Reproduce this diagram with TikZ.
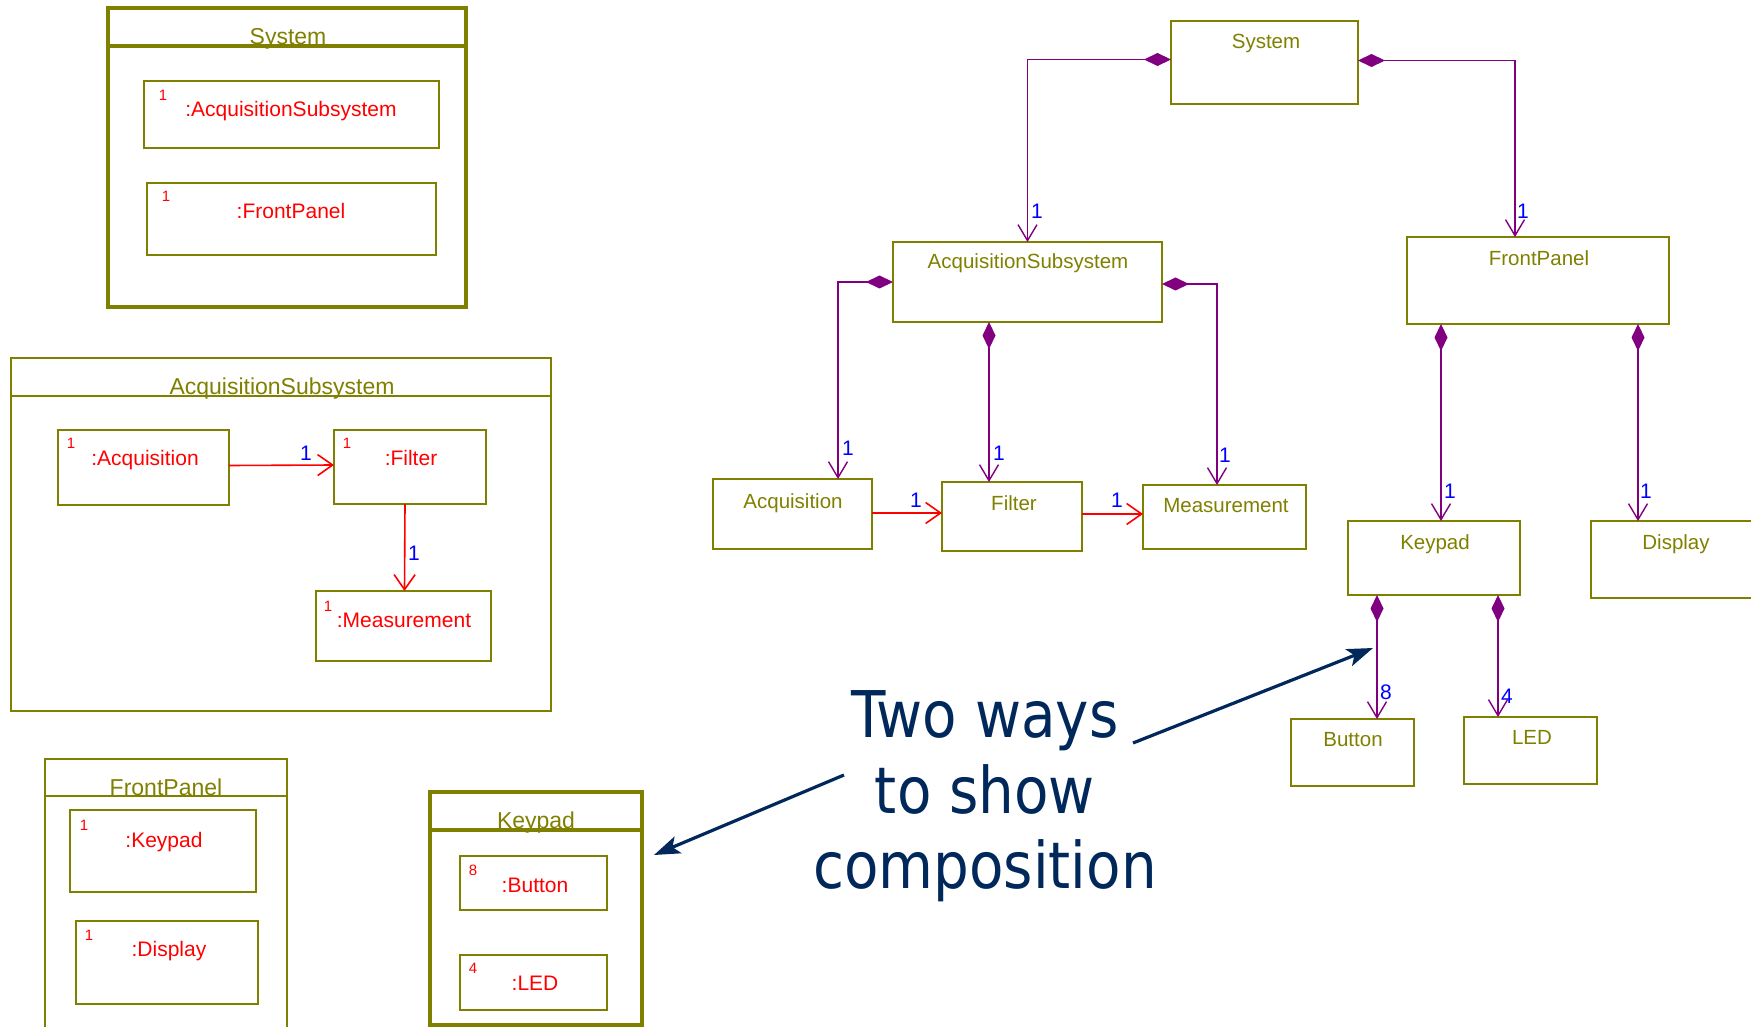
\documentclass[tikz,border=0pt]{standalone}
\usepackage{fontspec}
\setmainfont{Liberation Sans}
\newfontfamily\callfont[FakeStretch=0.875]{DejaVu Sans}
\usetikzlibrary{arrows.meta,fit,calc}
\definecolor{olivec}{HTML}{808000}
\definecolor{purp}{HTML}{800080}
\definecolor{navyc}{HTML}{00285A}
\definecolor{redc}{HTML}{FF0000}
\definecolor{bluec}{HTML}{0000FF}
\tikzset{
  box/.style={draw=olivec, line width=0.8pt, inner sep=0pt, outer sep=0pt},
  thickframe/.style={draw=olivec, line width=1.8pt, inner sep=0pt, outer sep=0pt},
  ftitle/.style={text=olivec, font=\fontsize{11.5}{13}\selectfont, inner sep=0pt, anchor=base},
  cname/.style={text=olivec, font=\fontsize{10.25}{12}\selectfont, inner sep=0pt, anchor=base},
  rname/.style={text=redc, font=\fontsize{10.5}{12}\selectfont, inner sep=0pt, anchor=base},
  mult/.style={text=redc, font=\fontsize{7.5}{9}\selectfont, inner sep=0pt, anchor=base},
  bl/.style={text=bluec, font=\fontsize{10.5}{12}\selectfont, inner sep=0pt, anchor=base},
  comp/.style={draw=purp, line width=0.7pt, {Diamond[length=13.5pt,width=6.5pt]}-{Straight Barb[length=8pt,width=9.5pt]}},
  nav/.style={draw=redc, line width=0.8pt, -{Straight Barb[length=7.5pt,width=10.5pt]}},
  callarrow/.style={draw=navyc, line width=1.6pt, -{Stealth[length=13pt,width=9pt,inset=3pt]}},
  calltext/.style={text=navyc, font=\callfont\fontsize{32.2}{38}\selectfont, inner sep=0pt, anchor=base},
}
\begin{document}
\begin{tikzpicture}[x=0.5pt,y=-0.5pt]
\path[use as bounding box] (0,0) rectangle (1751,1027);
\clip (0,0) rectangle (1751,1027);

% ===== Left: System frame =====
\node[thickframe, fit={(108,8) (466,307)}] (sysF) {};
\draw[olivec, line width=1.8pt] (sysF.west |- 0,46) -- (sysF.east |- 0,46);
\node[ftitle] (sysFT) at (288,45) {System};
\node[box, fit={(144,81) (439,148)}] (iAS) {};
\node[mult] (iASm) at (163,101) {1};
\node[rname] (iAST) at (291,117) {:AcquisitionSubsystem};
\node[box, fit={(147,183) (436,255)}] (iFP) {};
\node[mult] (iFPm) at (166,202) {1};
\node[rname] (iFPT) at (291,219) {:FrontPanel};

% ===== Left: AcquisitionSubsystem frame =====
\node[box, fit={(11,358) (551,711)}] (asF) {};
\draw[olivec, line width=0.8pt] (asF.west |- 0,396) -- (asF.east |- 0,396);
\node[ftitle] (asFT) at (282,394) {AcquisitionSubsystem};
\node[box, fit={(58,430) (229,505)}] (iAcq) {};
\node[mult] (iAcqm) at (71,448) {1};
\node[rname] (iAcqT) at (145,465) {:Acquisition};
\node[box, fit={(334,430) (486,504)}] (iFil) {};
\node[mult] (iFilm) at (347,448) {1};
\node[rname] (iFilT) at (411,465) {:Filter};
\node[box, fit={(316,591) (491,661)}] (iMeas) {};
\node[mult] (iMeasm) at (328,611) {1};
\node[rname] (iMeasT) at (404,627) {:Measurement};
\draw[nav] ($(iAcq.east)+(0,-2)$) -- ($(iFil.west)+(0,-2)$);
\node[bl] (lAF) at (306,460) {1};
\draw[nav] ($(iFil.south)+(-5,0)$) -- ($(iMeas.north)+(1,0)$);
\node[bl] (lFM) at (414,560) {1};

% ===== Left: FrontPanel frame =====
\node[box, fit={(45,759) (287,1045)}] (fpF) {};
\draw[olivec, line width=0.8pt] (fpF.west |- 0,796) -- (fpF.east |- 0,796);
\node[ftitle] (fpFT) at (166,795) {FrontPanel};
\node[box, fit={(70,810) (256,892)}] (iKey) {};
\node[mult] (iKeym) at (84,830) {1};
\node[rname] (iKeyT) at (164,847) {:Keypad};
\node[box, fit={(76,921) (258,1004)}] (iDisp) {};
\node[mult] (iDispm) at (89,940) {1};
\node[rname] (iDispT) at (169,956) {:Display};

% ===== Left: Keypad frame =====
\node[thickframe, fit={(430,792) (642,1025)}] (kpF) {};
\draw[olivec, line width=1.8pt] (kpF.west |- 0,830) -- (kpF.east |- 0,830);
\node[ftitle] (kpFT) at (536,828) {Keypad};
\node[box, fit={(460,856) (607,910)}] (iBtn) {};
\node[mult] (iBtnm) at (473,875) {8};
\node[rname] (iBtnT) at (535,892) {:Button};
\node[box, fit={(460,955) (607,1010)}] (iLed) {};
\node[mult] (iLedm) at (473,973) {4};
\node[rname] (iLedT) at (535,990) {:LED};

% ===== Right: class diagram =====
\node[box, fit={(1171,21) (1358,104)}] (sys) {};
\node[cname] (sysT) at (1266,49) {System};
\node[box, fit={(893,242) (1162,322)}] (as) {};
\node[cname] (asT) at (1028,269) {AcquisitionSubsystem};
\node[box, fit={(1407,237) (1669,324)}] (fp) {};
\node[cname] (fpT) at (1539,266) {FrontPanel};
\node[box, fit={(713,479) (872,549)}] (acq) {};
\node[cname] (acqT) at (793,508) {Acquisition};
\node[box, fit={(942,482) (1082,551)}] (fil) {};
\node[cname] (filT) at (1014,510) {Filter};
\node[box, fit={(1143,485) (1306,549)}] (meas) {};
\node[cname] (measT) at (1226,512) {Measurement};
\node[box, fit={(1348,521) (1520,595)}] (key) {};
\node[cname] (keyT) at (1435,549) {Keypad};
\node[box, fit={(1591,521) (1790,598)}] (disp) {};
\node[cname] (dispT) at (1676,549) {Display};
\node[box, fit={(1291,719) (1414,786)}] (btn) {};
\node[cname] (btnT) at (1353,746) {Button};
\node[box, fit={(1464,717) (1597,784)}] (led) {};
\node[cname] (ledT) at (1532,744) {LED};

% compositions
\draw[comp] ($(sys.west)+(0,-3)$) -| (as.north);
\node[bl] (l1) at (1037,219) {1};
\draw[comp] ($(sys.east)+(0,-2)$) -| ($(fp.north)+(-23,0)$);
\node[bl] (l2) at (1523,219) {1};
\draw[comp] (as.west) -| ($(acq.north)+(45.5,0)$);
\node[bl] (l3) at (848,455) {1};
\draw[comp] ($(as.south)+(-38.5,0)$) -- ($(fil.north)+(-23,0)$);
\node[bl] (l4) at (999,460) {1};
\draw[comp] ($(as.east)+(0,2)$) -| ($(meas.north)+(-7.5,0)$);
\node[bl] (l5) at (1225,462) {1};
\draw[comp] ($(fp.south)+(-97,0)$) -- ($(key.north)+(7,0)$);
\node[bl] (l6) at (1450,498) {1};
\draw[comp] ($(fp.south)+(100,0)$) -- ($(disp.north)+(-52.5,0)$);
\node[bl] (l7) at (1646,498) {1};
\draw[comp] ($(key.south)+(-57,0)$) -- ($(btn.north)+(24.5,0)$);
\node[bl] (l8) at (1386,699) {8};
\draw[comp] ($(key.south)+(64,0)$) -- ($(led.north)+(-32.5,0)$);
\node[bl] (l9) at (1507,703) {4};

% navigability
\draw[nav] (acq.east |- 0,513) -- (fil.west |- 0,513);
\node[bl] (l10) at (916,507) {1};
\draw[nav] (fil.east |- 0,514) -- (meas.west |- 0,514);
\node[bl] (l11) at (1117,507) {1};

% callout
\node[calltext] (t1) at (985,737) {Two ways};
\node[calltext] (t2) at (985,813) {to show};
\node[calltext] (t3) at (985,888) {composition};
\coordinate (cA) at (1133,743);
\coordinate (tipA) at (1373,648);
\coordinate (cB) at (844,775);
\coordinate (tipB) at (654,855);
\draw[callarrow] (cA) -- (tipA);
\draw[callarrow] (cB) -- (tipB);
\end{tikzpicture}
\end{document}
